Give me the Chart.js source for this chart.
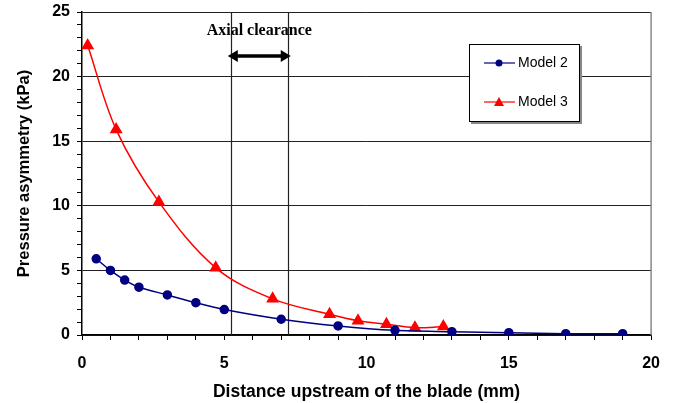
<!DOCTYPE html>
<html>
<head>
<meta charset="utf-8">
<script src="https://cdn.jsdelivr.net/npm/chart.js@4.4.0/dist/chart.umd.min.js"></script>
<style>
  html, body { margin: 0; padding: 0; background: #fff; }
  #wrap { width: 674px; height: 403px; }
</style>
</head>
<body>
<div id="wrap"><canvas id="myChart" width="674" height="403"></canvas></div>
<script>
// values
const model2X = [0.5, 1, 1.5, 2, 3, 4, 5, 7, 9, 11, 13, 15, 17, 19];
const model2Y = [5.9, 5.0, 4.25, 3.7, 3.1, 2.5, 1.97, 1.22, 0.7, 0.36, 0.26, 0.18, 0.1, 0.1];
const model3X = [0.2, 1.2, 2.7, 4.7, 6.7, 8.7, 9.7, 10.7, 11.7, 12.7];
const model3Y = [22.4, 15.9, 10.3, 5.2, 2.8, 1.6, 1.1, 0.83, 0.57, 0.65];
const clearance = [5.23, 7.23];
const arrowY = 21.6;
const yTicks = [0, 5, 10, 15, 20, 25];
const xTicks = [0, 5, 10, 15, 20];

function toPoints(xs, ys) {
    return xs.map((x, i) => ({ x: x, y: ys[i] }))
}

const extras = {
    id: 'extras',
    beforeDatasetsDraw(chart) {
        const ctx = chart.ctx
        const xs = chart.scales.x
        const area = chart.chartArea
        ctx.save()
        // right border
        ctx.strokeStyle = '#888'
        ctx.lineWidth = 1.5
        ctx.beginPath()
        ctx.moveTo(area.right, area.top)
        ctx.lineTo(area.right, area.bottom)
        ctx.stroke()
        // axial clearance lines
        ctx.strokeStyle = '#222'
        ctx.lineWidth = 1.2
        clearance.forEach(v => {
            const px = Math.round(xs.getPixelForValue(v)) + 0.5
            ctx.beginPath()
            ctx.moveTo(px, area.top)
            ctx.lineTo(px, area.bottom)
            ctx.stroke()
        })
        ctx.restore()
    },
    afterDatasetsDraw(chart) {
        const ctx = chart.ctx
        const xs = chart.scales.x, ys = chart.scales.y
        const x1 = xs.getPixelForValue(clearance[0]) - 3
        const x2 = xs.getPixelForValue(clearance[1]) + 3
        const y = ys.getPixelForValue(arrowY)
        ctx.save()
        ctx.strokeStyle = '#000'
        ctx.fillStyle = '#000'
        ctx.lineWidth = 3.5
        ctx.beginPath()
        ctx.moveTo(x1 + 6, y)
        ctx.lineTo(x2 - 6, y)
        ctx.stroke()
        ctx.beginPath()
        ctx.moveTo(x1, y); ctx.lineTo(x1 + 10, y - 6); ctx.lineTo(x1 + 10, y + 6); ctx.closePath()
        ctx.fill()
        ctx.beginPath()
        ctx.moveTo(x2, y); ctx.lineTo(x2 - 10, y - 6); ctx.lineTo(x2 - 10, y + 6); ctx.closePath()
        ctx.fill()
        ctx.font = 'bold 16px "Liberation Serif", "Times New Roman", serif'
        ctx.textAlign = 'center'
        ctx.textBaseline = 'middle'
        ctx.fillText('Axial clearance', (x1 + x2) / 2, y - 25)

        // legend box
        const bx = 469, by = 44, bw = 111, bh = 78
        ctx.fillStyle = '#888'
        ctx.fillRect(bx + 2, by + 2, bw, bh)
        ctx.fillStyle = '#fff'
        ctx.fillRect(bx, by, bw, bh)
        ctx.strokeStyle = '#000'
        ctx.lineWidth = 1
        ctx.strokeRect(bx + 0.5, by + 0.5, bw - 1, bh - 1)
        ctx.font = '14px "Liberation Sans", Arial, sans-serif'
        ctx.textAlign = 'left'
        chart.data.datasets.forEach((ds, i) => {
            const ly = by + 19 + i * 39
            ctx.strokeStyle = ds.borderColor
            ctx.lineWidth = 1.2
            ctx.beginPath()
            ctx.moveTo(484, ly); ctx.lineTo(515, ly)
            ctx.stroke()
            ctx.fillStyle = ds.borderColor
            ctx.beginPath()
            if (ds.pointStyle === 'triangle') {
                ctx.moveTo(499, ly - 5); ctx.lineTo(504, ly + 4); ctx.lineTo(494, ly + 4); ctx.closePath()
            } else {
                ctx.arc(499, ly, 3.5, 0, Math.PI * 2)
            }
            ctx.fill()
            ctx.fillStyle = '#000'
            ctx.fillText(ds.label, 518, ly)
        })
        ctx.restore()
    }
}

const element = document.getElementById('myChart')
new Chart(element.getContext('2d'), {
    type: 'scatter',
    data: {
        datasets: [{
            label: 'Model 2',
            data: toPoints(model2X, model2Y),
            showLine: true,
            borderColor: '#000080',
            backgroundColor: '#000080',
            borderWidth: 1.5,
            pointStyle: 'circle',
            pointRadius: 4,
            tension: 0.3
        }, {
            label: 'Model 3',
            data: toPoints(model3X, model3Y),
            showLine: true,
            borderColor: '#ff0000',
            backgroundColor: '#ff0000',
            borderWidth: 1.5,
            pointStyle: 'triangle',
            pointRadius: 6,
            tension: 0.35
        }]
    },
    options: {
        responsive: false,
        animation: false,
        layout: { padding: { top: 12, right: 22, left: 0, bottom: 0 } },
        plugins: { legend: { display: false }, tooltip: { enabled: false } },
        scales: {
            x: {
                type: 'linear',
                min: 0, max: 20,
                afterFit(scale) { scale.height = 68 },
                grid: { drawOnChartArea: false, tickColor: '#000', tickLength: 5 },
                border: { color: '#000', width: 1.5 },
                ticks: {
                    stepSize: 1, autoSkip: false, maxRotation: 0, padding: 14,
                    color: '#000',
                    font: { family: '"Liberation Sans", Arial', size: 16, weight: 'bold' },
                    callback: v => xTicks.includes(v) ? v : ''
                },
                title: {
                    display: true,
                    text: 'Distance upstream of the blade (mm)',
                    color: '#000',
                    padding: { top: 4, bottom: 0 },
                    font: { family: '"Liberation Sans", Arial', size: 17.5, weight: 'bold' }
                }
            },
            y: {
                min: 0, max: 25,
                afterFit(scale) {
                    scale.width = 82
                    scale.paddingTop = 0
                },
                grid: {
                    color: c => yTicks.includes(c.tick.value) ? '#222' : 'rgba(0,0,0,0)',
                    tickColor: '#000', tickLength: 5
                },
                border: { color: '#000', width: 1.5 },
                ticks: {
                    stepSize: 1, autoSkip: false, padding: 7,
                    color: '#000',
                    font: { family: '"Liberation Sans", Arial', size: 16, weight: 'bold' },
                    callback: v => yTicks.includes(v) ? v : ''
                },
                title: {
                    display: true,
                    text: 'Pressure asymmetry (kPa)',
                    color: '#000',
                    padding: { top: 15, bottom: 4 },
                    font: { family: '"Liberation Sans", Arial', size: 16.5, weight: 'bold' }
                }
            }
        }
    },
    plugins: [extras]
})
</script>
</body>
</html>
